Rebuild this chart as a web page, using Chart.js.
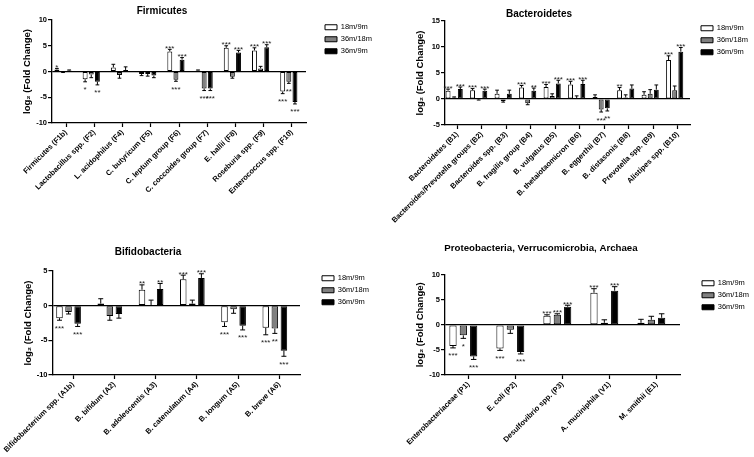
<!DOCTYPE html>
<html>
<head>
<meta charset="utf-8">
<script src="https://cdn.jsdelivr.net/npm/chart.js@4.4.1/dist/chart.umd.min.js"></script>
<style>
  body { margin: 0; background: #fff; }
  #wrap { position: relative; width: 754px; height: 457px; background: #fff; }
  canvas { position: absolute; }
</style>
</head>
<body>
<div id="wrap">
  <canvas id="firm" width="377" height="228" style="left:0;top:0"></canvas>
  <canvas id="bact" width="377" height="228" style="left:377px;top:0"></canvas>
  <canvas id="bifi" width="377" height="229" style="left:0;top:228px"></canvas>
  <canvas id="prot" width="377" height="229" style="left:377px;top:228px"></canvas>
</div>
<script>
// Series names, shared by all four panels
let seriesNames = ['18m/9m', '36m/18m', '36m/9m'];

// Firmicutes
let firmLabels = ['Firmicutes (F1b)', 'Lactobacillus spp. (F2)', 'L. acidophilus (F4)', 'C. butyricum (F5)',
  'C. leptum group (F6)', 'C. coccoides group (F7)', 'E. hallii (F8)', 'Roseburia spp. (F9)', 'Enterococcus spp. (F10)'];
let firm18v9 = [0.4, -1.5, 0.8, -0.5, 3.9, 0.2, 4.6, 4.1, -3.9];
let firm36v18 = [-0.1, -0.6, -0.7, -0.5, -1.6, -3.3, -1.0, 0.6, -2.0];
let firm36v9 = [0.2, -2.0, 0.3, -0.8, 2.3, -3.3, 3.7, 4.7, -5.9];
let firmErr18v9 = [0.2, 0.5, 0.6, 0.3, 0.4, 0.1, 0.4, 0.5, 0.4];
let firmErr36v18 = [0.1, 0.6, 0.6, 0.4, 0.3, 0.4, 0.3, 0.4, 0.3];
let firmErr36v9 = [0.1, 0.6, 0.6, 0.4, 0.4, 0.4, 0.4, 0.5, 0.4];
let firmStars18v9 = ['*', '*', '', '', '***', '', '***', '***', '***'];
let firmStars36v18 = ['', '', '', '', '***', '***', '', '', '**'];
let firmStars36v9 = ['', '**', '', '', '***', '***', '***', '***', '***'];

// Bacteroidetes
let bactLabels = ['Bacteroidetes (B1)', 'Bacteroides/Prevotella groups (B2)', 'Bacteroides spp. (B3)', 'B. fragilis group (B4)',
  'B. vulgatus (B5)', 'B. thetaiotaomicron (B6)', 'B. eggerthii (B7)', 'B. distasonis (B8)', 'Prevotella spp. (B9)', 'Alistipes spp. (B10)'];
let bact18v9 = [1.6, 1.7, 1.0, 2.2, 2.3, 2.8, 0.4, 1.7, 0.8, 7.5];
let bact36v18 = [0.3, -0.1, -0.4, -0.8, 0.6, 0.1, -2.0, 0.3, 1.0, 1.7];
let bact36v9 = [1.9, 1.6, 1.0, 1.6, 3.0, 2.9, -1.8, 2.0, 1.8, 9.1];
let bactErr18v9 = [0.3, 0.3, 0.7, 0.4, 0.5, 0.6, 0.4, 0.5, 0.6, 0.8];
let bactErr36v18 = [0.1, 0.1, 0.2, 0.3, 0.4, 0.5, 0.5, 0.5, 0.8, 0.8];
let bactErr36v9 = [0.4, 0.3, 0.7, 0.5, 0.6, 0.7, 0.5, 0.7, 0.9, 0.8];
let bactStars18v9 = ['***', '***', '', '***', '***', '***', '', '**', '', '***'];
let bactStars36v18 = ['', '', '', '', '', '', '***', '', '', ''];
let bactStars36v9 = ['***', '***', '', '**', '***', '***', '**', '', '', '***'];

// Bifidobacteria
let bifiLabels = ['Bifidobacterium spp. (A1b)', 'B. bifidum (A2)', 'B. adolescentis (A3)', 'B. catenulatum (A4)',
  'B. longum (A5)', 'B. breve (A6)'];
let bifi18v9 = [-1.8, 0.3, 2.3, 3.8, -2.4, -3.2];
let bifi36v18 = [-0.9, -1.5, 0.1, 0.3, -0.5, -3.3];
let bifi36v9 = [-2.6, -1.2, 2.4, 4.0, -2.9, -6.5];
let bifiErr18v9 = [0.3, 0.7, 0.7, 0.6, 0.6, 1.0];
let bifiErr36v18 = [0.3, 0.6, 0.7, 0.5, 0.6, 0.7];
let bifiErr36v9 = [0.4, 0.6, 0.8, 0.6, 0.6, 0.8];
let bifiStars18v9 = ['***', '', '**', '***', '***', '***'];
let bifiStars36v18 = ['', '', '', '', '', '**'];
let bifiStars36v9 = ['***', '', '**', '***', '***', '***'];

// Proteobacteria, Verrucomicrobia, Archaea
let protLabels = ['Enterobacteriaceae (P1)', 'E. coli (P2)', 'Desulfovibrio spp. (P3)', 'A. muciniphila (V1)', 'M. smithii (E1)'];
let prot18v9 = [-4.2, -4.7, 1.8, 6.4, 0.4];
let prot36v18 = [-2.1, -1.0, 2.0, 0.4, 1.0];
let prot36v9 = [-6.3, -5.4, 3.6, 6.8, 1.4];
let protErr18v9 = [0.4, 0.4, 0.2, 0.8, 0.7];
let protErr36v18 = [0.6, 0.7, 0.2, 0.6, 0.7];
let protErr36v9 = [0.6, 0.4, 0.3, 0.8, 0.8];
let protStars18v9 = ['***', '***', '***', '***', ''];
let protStars36v18 = ['*', '', '***', '', ''];
let protStars36v9 = ['***', '***', '***', '***', ''];

Chart.defaults.font.family = "'Liberation Sans', Arial, sans-serif";
Chart.defaults.color = '#000';

/**
 * Draws the one-sided error bars and the significance stars,
 * and moves the legend and the title where Prism puts them
 */
const barExtras = {
  id: 'barExtras',
  afterLayout(chart, args, opts) {
    let lg = chart.legend;
    lg.left = opts.legendX;
    lg.top = opts.legendY;
    lg.width = 377 - opts.legendX;
    lg.right = lg.left + lg.width;
    lg.bottom = lg.top + lg.height;
    let t = chart.titleBlock;
    t.left = opts.titleX - 160;
    t.right = opts.titleX + 160;
  },
  afterDatasetsDraw(chart, args, opts) {
    let ctx = chart.ctx;
    let yScale = chart.scales.y;
    ctx.save();
    ctx.strokeStyle = '#000';
    ctx.lineWidth = 1;
    ctx.fillStyle = '#222';
    ctx.font = "8px 'Liberation Sans', Arial, sans-serif";
    ctx.textAlign = 'center';
    ctx.textBaseline = 'alphabetic';
    for (let d = 0; d < opts.errors.length; d++) {
      let meta = chart.getDatasetMeta(d);
      let values = chart.data.datasets[d].data;
      meta.data.forEach(function (bar, i) {
        let v = values[i];
        let dir = v >= 0 ? 1 : -1;
        let end = yScale.getPixelForValue(v + dir * opts.errors[d][i]);
        let cap = bar.width * 0.38;
        ctx.beginPath();
        ctx.moveTo(bar.x, bar.y);
        ctx.lineTo(bar.x, end);
        ctx.moveTo(bar.x - cap, end);
        ctx.lineTo(bar.x + cap, end);
        ctx.stroke();
        let s = opts.stars[d][i];
        if (s) {
          ctx.fillText(s, bar.x, dir > 0 ? end + 1.5 : end + 10.5);
        }
      });
    }
    ctx.restore();
  }
};

/**
 * Builds one panel
 * @param id - canvas id
 * @param p - panel settings: data arrays plus layout numbers
 */
function makePanel(id, p) {
  let canvas = document.getElementById(id);
  let H = canvas.height;
  let colors = ['#ffffff', '#808080', '#000000'];
  let datasets = p.values.map(function (vals, k) {
    return {
      label: seriesNames[k],
      data: vals,
      backgroundColor: colors[k],
      borderColor: '#000',
      borderWidth: 1,
      borderSkipped: false,
      categoryPercentage: p.cat,
      barPercentage: p.bar
    };
  });
  // empty 4th slot, Prism leaves room for it and so the groups sit left of the ticks
  datasets.push({ label: '', data: [], backgroundColor: 'rgba(0,0,0,0)', categoryPercentage: p.cat, barPercentage: p.bar });

  return new Chart(canvas, {
    type: 'bar',
    data: { labels: p.labels, datasets: datasets },
    plugins: [barExtras],
    options: {
      responsive: false,
      animation: false,
      events: [],
      layout: { autoPadding: false, padding: { left: 0, top: 0, bottom: 0, right: 377 - p.right - 30 } },
      scales: {
        x: {
          offset: true,
          grid: { display: true, offset: false, drawOnChartArea: false, tickColor: '#000', tickLength: 4, tickWidth: 1.2 },
          border: { display: true, color: '#000', width: 1.3 },
          ticks: {
            autoSkip: false, minRotation: 45, maxRotation: 45, padding: 1,
            font: { size: 7.5, weight: 'bold' }, color: '#000'
          },
          afterFit: function (scale) { scale.height = H - p.bottom; }
        },
        y: {
          min: p.min, max: p.max,
          grid: {
            color: function (c) { return c.tick && c.tick.value === 0 ? '#000' : 'rgba(0,0,0,0)'; },
            lineWidth: 1.2, tickColor: '#000', tickLength: 4, tickWidth: 1.2
          },
          border: { display: true, color: '#000', width: 1.3 },
          ticks: { stepSize: 5, padding: 1, font: { size: 7.5, weight: 'bold' }, color: '#000' },
          title: {
            display: true, text: 'log\u2082 (Fold Change)', color: '#000',
            font: { size: 9.5, weight: 'bold' }, padding: { top: p.yTitlePad, bottom: 0 }
          },
          afterFit: function (scale) { scale.width = p.left; }
        }
      },
      plugins: {
        title: {
          display: true, text: p.title, color: '#000',
          font: { size: p.titleSize || 10, weight: 'bold' }, padding: { top: p.titleTop, bottom: p.titleBottom }
        },
        legend: {
          position: 'right', align: 'start', fullSize: false, maxWidth: 30,
          labels: {
            boxWidth: 12, boxHeight: 5, padding: 4.5, color: '#000',
            font: { size: 7.5 },
            filter: function (item) { return item.datasetIndex < 3; }
          }
        },
        tooltip: { enabled: false },
        barExtras: {
          errors: p.errors, stars: p.stars,
          legendX: p.legendX - 4.5, legendY: p.legendY - 4.5 - 2.5,
          titleX: p.titleX
        }
      }
    }
  });
}

makePanel('firm', {
  title: 'Firmicutes', labels: firmLabels,
  values: [firm18v9, firm36v18, firm36v9],
  errors: [firmErr18v9, firmErr36v18, firmErr36v9],
  stars: [firmStars18v9, firmStars36v18, firmStars36v9],
  min: -10, max: 10, left: 52, right: 306, bottom: 123,
  titleTop: 5, titleBottom: 3, titleX: 162, yTitlePad: 22,
  legendX: 325, legendY: 26, cat: 0.87, bar: 0.8
});

makePanel('bact', {
  title: 'Bacteroidetes', labels: bactLabels,
  values: [bact18v9, bact36v18, bact36v9],
  errors: [bactErr18v9, bactErr36v18, bactErr36v9],
  stars: [bactStars18v9, bactStars36v18, bactStars36v9],
  min: -5, max: 15, left: 68, right: 313, bottom: 125,
  titleTop: 8, titleBottom: 1, titleX: 162, yTitlePad: 38,
  legendX: 324, legendY: 27, cat: 1.0, bar: 0.8
});

makePanel('bifi', {
  title: 'Bifidobacteria', labels: bifiLabels,
  values: [bifi18v9, bifi36v18, bifi36v9],
  errors: [bifiErr18v9, bifiErr36v18, bifiErr36v9],
  stars: [bifiStars18v9, bifiStars36v18, bifiStars36v9],
  min: -10, max: 5, left: 52, right: 300, bottom: 147,
  titleTop: 18, titleBottom: 13, titleX: 148, yTitlePad: 22,
  legendX: 322, legendY: 49, cat: 0.88, bar: 0.72
});

makePanel('prot', {
  title: 'Proteobacteria, Verrucomicrobia, Archaea', labels: protLabels,
  values: [prot18v9, prot36v18, prot36v9],
  errors: [protErr18v9, protErr36v18, protErr36v9],
  stars: [protStars18v9, protStars36v18, protStars36v9],
  min: -10, max: 10, left: 68, right: 303, bottom: 147,
  titleTop: 15, titleBottom: 20, titleX: 164, yTitlePad: 38, titleSize: 9.7,
  legendX: 325, legendY: 54, cat: 0.88, bar: 0.7
});
</script>
</body>
</html>
